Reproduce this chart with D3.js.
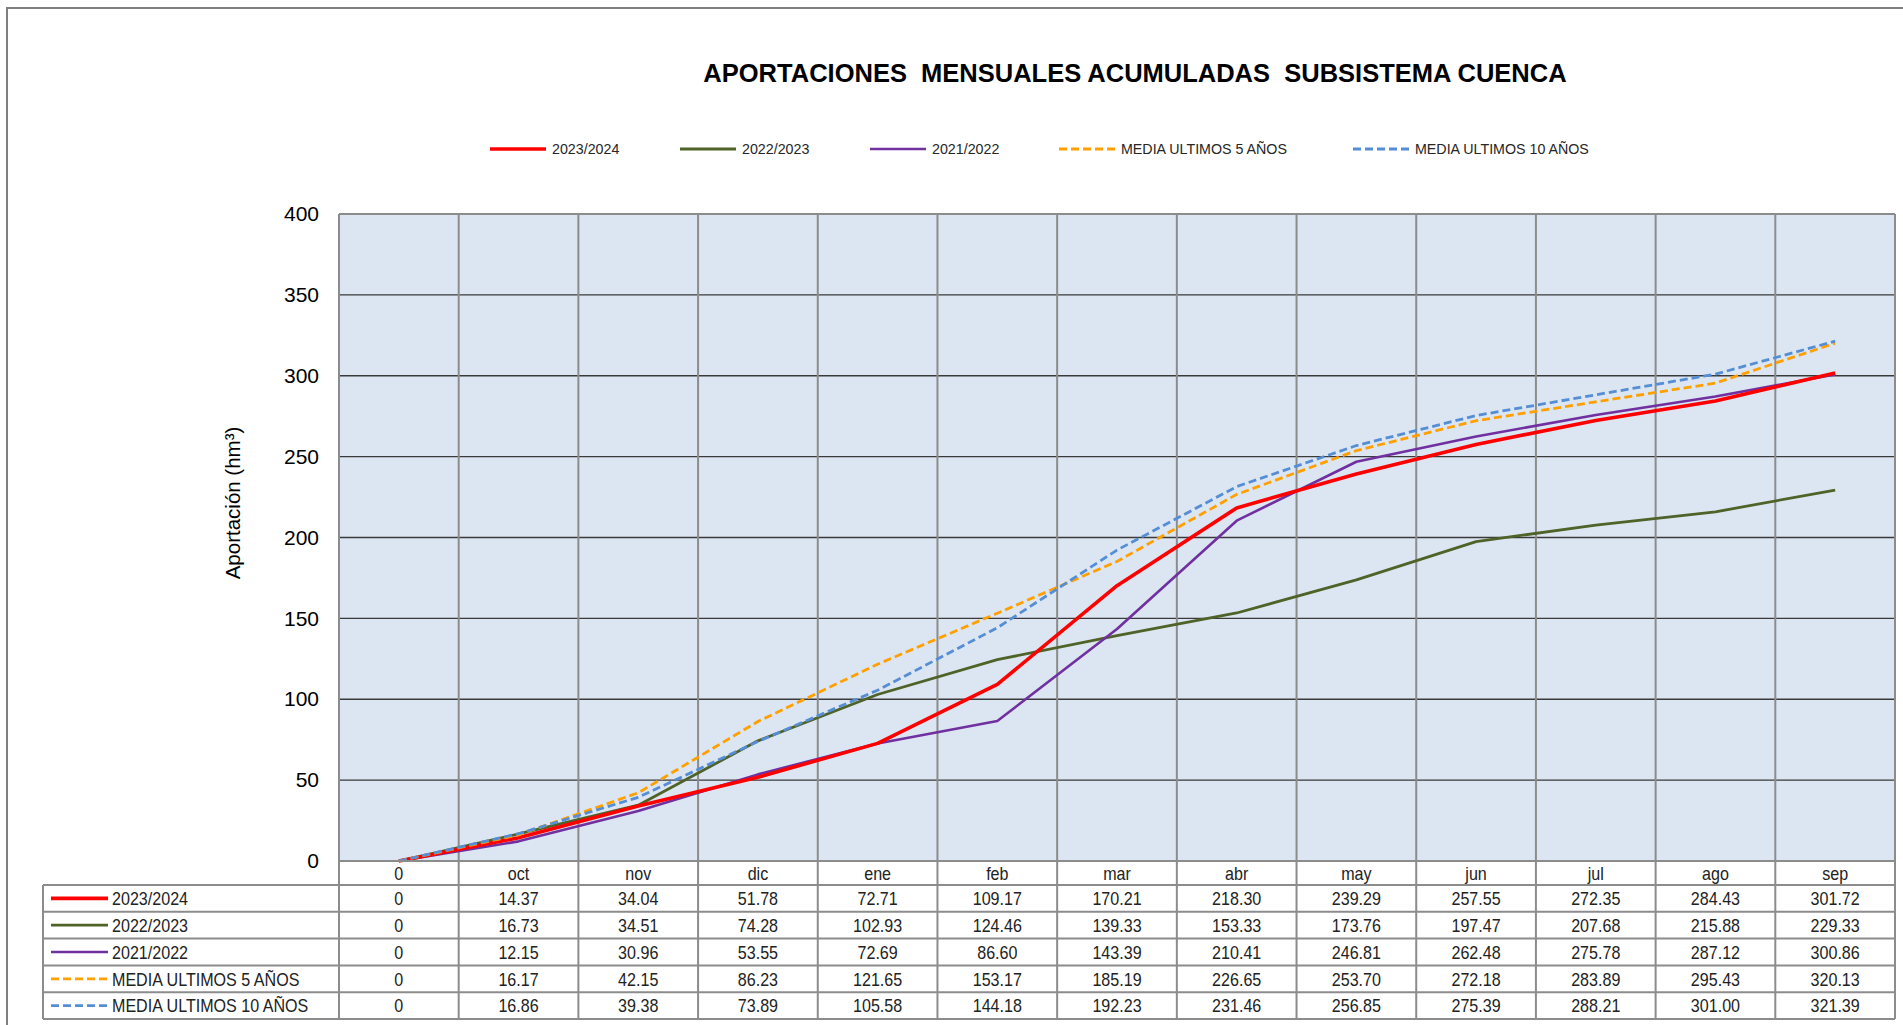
<!DOCTYPE html>
<html>
<head>
<meta charset="utf-8">
<script src="https://cdn.jsdelivr.net/npm/d3@7"></script>
<style>
  html, body { margin: 0; padding: 0; background: #fff; }
  svg { display: block; font-family: "Liberation Sans", Arial, sans-serif; }
</style>
</head>
<body>
<svg id="chart" width="1903" height="1025"></svg>
<script>
// ---------- DATA ----------
const categories = ["0","oct","nov","dic","ene","feb","mar","abr","may","jun","jul","ago","sep"];
const s2023_2024 = [0,14.37,34.04,51.78,72.71,109.17,170.21,218.30,239.29,257.55,272.35,284.43,301.72];
const s2022_2023 = [0,16.73,34.51,74.28,102.93,124.46,139.33,153.33,173.76,197.47,207.68,215.88,229.33];
const s2021_2022 = [0,12.15,30.96,53.55,72.69,86.60,143.39,210.41,246.81,262.48,275.78,287.12,300.86];
const media5 = [0,16.17,42.15,86.23,121.65,153.17,185.19,226.65,253.70,272.18,283.89,295.43,320.13];
const media10 = [0,16.86,39.38,73.89,105.58,144.18,192.23,231.46,256.85,275.39,288.21,301.00,321.39];
const seriesNames = ["2023/2024","2022/2023","2021/2022","MEDIA ULTIMOS 5 AÑOS","MEDIA ULTIMOS 10 AÑOS"];
const yTicks = [0,50,100,150,200,250,300,350,400];
const titleText = "APORTACIONES  MENSUALES ACUMULADAS  SUBSISTEMA CUENCA";
const yAxisTitle = "Aportación (hm³)";

// ---------- STYLE / LAYOUT ----------
const seriesValues = [s2023_2024, s2022_2023, s2021_2022, media5, media10];
const seriesStyle = [
  {color: "#ff0000", width: 3.6, dash: null},
  {color: "#4f6228", width: 2.8, dash: null},
  {color: "#7030a0", width: 2.6, dash: null},
  {color: "#ffa000", width: 2.8, dash: "8,4"},
  {color: "#558ed5", width: 2.8, dash: "8,4"}
];
const drawOrder = [1, 2, 0, 3, 4];
const legendX = [490, 680, 870, 1059, 1353];

const plot = {left: 339, right: 1895, top: 214, bottom: 861};
const headerBottom = 885;
const rowH = 26.8;
const tableLeft = 43;
const gridGray = "#8c8c8c";
const condense = 0.92;

const svg = d3.select("#chart");

// outer frame
svg.append("rect").attr("x", 7).attr("y", 8).attr("width", 1990).attr("height", 1100)
  .attr("fill", "none").attr("stroke", "#7f7f7f").attr("stroke-width", 2);

// scales
const x = d3.scaleBand().domain(categories).range([plot.left, plot.right]).paddingInner(0).paddingOuter(0);
const xc = c => x(c) + x.bandwidth() / 2;
const y = d3.scaleLinear().domain([0, 400]).range([plot.bottom, plot.top]);

// plot background
svg.append("rect").attr("x", plot.left).attr("y", plot.top)
  .attr("width", plot.right - plot.left).attr("height", plot.bottom - plot.top)
  .attr("fill", "#dce6f2");

// horizontal gridlines
svg.append("g").selectAll("line").data(yTicks.filter(t => t > 0 && t < 400)).join("line")
  .attr("x1", plot.left).attr("x2", plot.right)
  .attr("y1", d => y(d)).attr("y2", d => y(d))
  .attr("stroke", "#3a3a3a").attr("stroke-width", 1.4);

// vertical column lines (plot + table)
const bounds = categories.map(c => x(c)).concat([plot.right]);
svg.append("g").selectAll("line").data(bounds).join("line")
  .attr("x1", d => d).attr("x2", d => d)
  .attr("y1", plot.top).attr("y2", headerBottom + rowH * 5)
  .attr("stroke", gridGray).attr("stroke-width", 2);

// plot border top
svg.append("line").attr("x1", plot.left).attr("x2", plot.right)
  .attr("y1", plot.top).attr("y2", plot.top).attr("stroke", gridGray).attr("stroke-width", 2);

// y axis labels
const yAxis = d3.axisLeft(y).tickValues(yTicks).tickSize(0).tickPadding(20);
const yg = svg.append("g").attr("transform", `translate(${plot.left},0)`).call(yAxis);
yg.select(".domain").remove();
yg.selectAll("text").attr("font-size", "21px").attr("fill", "#000")
  .attr("font-family", "'Liberation Sans', Arial, sans-serif");

// y axis title
svg.append("text").attr("transform", "translate(232,503) rotate(-90)")
  .attr("text-anchor", "middle").attr("dominant-baseline", "central")
  .attr("font-size", "20.5px").attr("fill", "#000").text(yAxisTitle);

// title
svg.append("text").attr("x", 1135).attr("y", 82).attr("text-anchor", "middle")
  .attr("font-size", "25.5px").attr("font-weight", "bold").attr("fill", "#000")
  .style("white-space", "pre").text(titleText);

// top legend
const lg = svg.append("g");
seriesNames.forEach((name, i) => {
  const st = seriesStyle[i];
  const g = lg.append("g").attr("transform", `translate(${legendX[i]},149)`);
  g.append("line").attr("x1", 0).attr("x2", 56).attr("y1", 0).attr("y2", 0)
    .attr("stroke", st.color).attr("stroke-width", st.width)
    .attr("stroke-dasharray", st.dash);
  g.append("text").attr("transform", `translate(62,0) scale(${condense},1)`)
    .attr("dominant-baseline", "central")
    .attr("font-size", "15.5px").attr("fill", "#262626").text(name);
});

// series lines
const line = d3.line().x((d, i) => xc(categories[i])).y(d => y(d));
const lines = svg.append("g");
drawOrder.forEach(i => {
  const st = seriesStyle[i];
  lines.append("path").datum(seriesValues[i])
    .attr("d", line).attr("fill", "none")
    .attr("stroke", st.color).attr("stroke-width", st.width)
    .attr("stroke-dasharray", st.dash)
    .attr("stroke-linejoin", "round");
});

// ---------- DATA TABLE ----------
const tbl = svg.append("g");
const tFont = "17.5px";
// header labels
tbl.selectAll("text.hdr").data(categories).join("text").attr("class", "hdr")
  .attr("transform", d => `translate(${xc(d)},${(plot.bottom + headerBottom) / 2 + 1}) scale(${condense},1)`)
  .attr("text-anchor", "middle").attr("dominant-baseline", "central")
  .attr("font-size", tFont).attr("fill", "#222").text(d => d);

// horizontal row lines
const rowLines = d3.range(6).map(k => headerBottom + k * rowH);
tbl.selectAll("line.row").data(rowLines).join("line").attr("class", "row")
  .attr("x1", tableLeft).attr("x2", plot.right)
  .attr("y1", d => d).attr("y2", d => d)
  .attr("stroke", gridGray).attr("stroke-width", 2);
// plot bottom / header top
tbl.append("line").attr("x1", plot.left).attr("x2", plot.right)
  .attr("y1", plot.bottom).attr("y2", plot.bottom)
  .attr("stroke", gridGray).attr("stroke-width", 2);
// table left border
tbl.append("line").attr("x1", tableLeft).attr("x2", tableLeft)
  .attr("y1", headerBottom).attr("y2", headerBottom + 5 * rowH)
  .attr("stroke", gridGray).attr("stroke-width", 2);

const fmt = v => v === 0 ? "0" : d3.format(".2f")(v);
seriesNames.forEach((name, i) => {
  const st = seriesStyle[i];
  const cy = headerBottom + (i + 0.5) * rowH + 1;
  const g = tbl.append("g");
  g.append("line").attr("x1", 51).attr("x2", 108).attr("y1", cy - 1).attr("y2", cy - 1)
    .attr("stroke", st.color).attr("stroke-width", st.width)
    .attr("stroke-dasharray", st.dash);
  g.append("text").attr("transform", `translate(112,${cy}) scale(${condense},1)`)
    .attr("dominant-baseline", "central")
    .attr("font-size", tFont).attr("fill", "#222").text(name);
  g.selectAll("text.val").data(seriesValues[i]).join("text").attr("class", "val")
    .attr("transform", (d, j) => `translate(${xc(categories[j])},${cy}) scale(${condense},1)`)
    .attr("text-anchor", "middle").attr("dominant-baseline", "central")
    .attr("font-size", tFont).attr("fill", "#222").text(d => fmt(d));
});
</script>
</body>
</html>
